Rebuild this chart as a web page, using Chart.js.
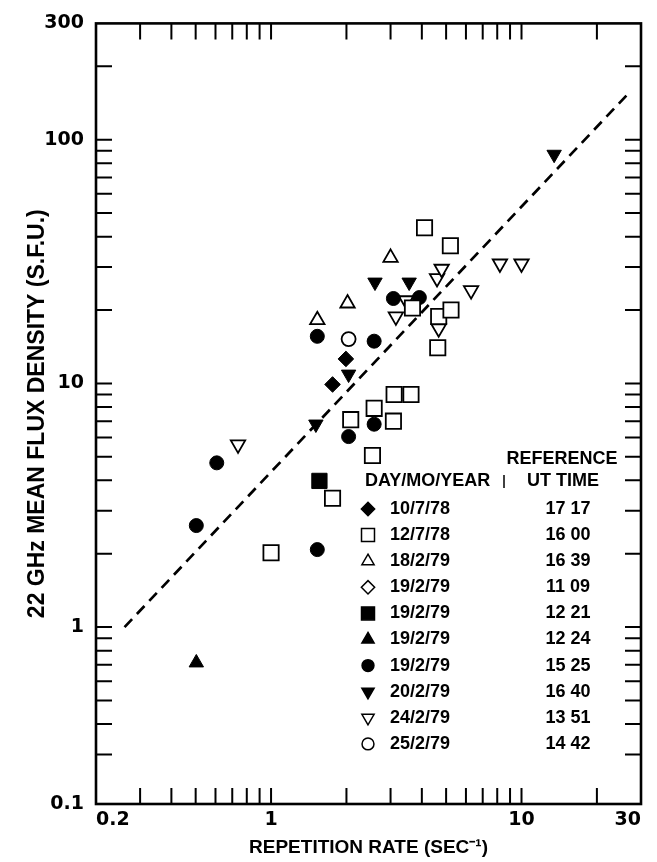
<!DOCTYPE html>
<html>
<head>
<meta charset="utf-8">
<title>22 GHz mean flux density vs repetition rate</title>
<script src="https://cdn.jsdelivr.net/npm/chart.js"></script>
<style>
  html, body { margin: 0; padding: 0; background: #fff; }
</style>
</head>
<body>
<canvas id="fluxChart" width="657" height="862"></canvas>
<script>
// values (x: repetition rate, y: flux density)
const diamond10778 = [{x: 1.99, y: 12.6}, {x: 1.76, y: 9.9}];
const square12778 = [
  {x: 1.0, y: 2.02}, {x: 1.76, y: 3.38}, {x: 2.54, y: 5.06}, {x: 2.08, y: 7.1},
  {x: 2.58, y: 7.9}, {x: 3.08, y: 7.0}, {x: 3.10, y: 9.0}, {x: 3.62, y: 9.0},
  {x: 4.63, y: 14.0}, {x: 4.67, y: 18.8}, {x: 5.23, y: 20.0}, {x: 3.67, y: 20.4},
  {x: 4.1, y: 43.5}, {x: 5.2, y: 36.7}
];
const triangle18279 = [{x: 2.02, y: 21.3}, {x: 1.53, y: 18.2}, {x: 3.0, y: 32.8}];
const openDiamond19279 = [];
const square19279 = [{x: 1.56, y: 3.98}];
const triangle19279 = [{x: 0.503, y: 0.714}];
const circle19279 = [
  {x: 1.53, y: 15.6}, {x: 2.58, y: 14.9}, {x: 2.04, y: 6.05}, {x: 2.58, y: 6.8},
  {x: 0.607, y: 4.72}, {x: 0.503, y: 2.61}, {x: 1.53, y: 2.08},
  {x: 3.08, y: 22.3}, {x: 3.91, y: 22.5}
];
const downTri20279 = [
  {x: 2.04, y: 10.9}, {x: 1.51, y: 6.8}, {x: 2.6, y: 26}, {x: 3.56, y: 26}, {x: 13.5, y: 87}
];
const openDownTri24279 = [
  {x: 0.738, y: 5.61}, {x: 3.46, y: 21.9}, {x: 3.15, y: 18.8}, {x: 4.67, y: 16.8},
  {x: 6.29, y: 24.1}, {x: 4.6, y: 27}, {x: 4.8, y: 29.5}, {x: 8.2, y: 31}, {x: 10, y: 31}
];
const circle25279 = [{x: 2.04, y: 15.2}];
const fitLine = [{x: 0.26, y: 1.0}, {x: 26.6, y: 154}];

const dates = ['10/7/78', '12/7/78', '18/2/79', '19/2/79', '19/2/79',
  '19/2/79', '19/2/79', '20/2/79', '24/2/79', '25/2/79'];
const utTimes = ['17 17', '16 00', '16 39', '11 09', '12 21',
  '12 24', '15 25', '16 40', '13 51', '14 42'];

const xTicks = [0.2, 1, 10, 30];
const xMinor = [0.3, 0.4, 0.5, 0.6, 0.7, 0.8, 0.9, 1, 2, 3, 4, 5, 6, 7, 8, 9, 10, 20];
// the original axis stops near 0.19 but its bottom is labelled 0.1
const yTicks = [0.188, 1, 10, 100, 300];
const yTickLabels = ['0.1', '1', '10', '100', '300'];
const yMinor = [0.3, 0.4, 0.5, 0.6, 0.7, 0.8, 0.9, 1, 2, 3, 4, 5, 6, 7, 8, 9,
  10, 20, 30, 40, 50, 60, 70, 80, 90, 100, 200];

const series = [diamond10778, square12778, triangle18279, openDiamond19279, square19279,
  triangle19279, circle19279, downTri20279, openDownTri24279, circle25279];
const markers = [
  {style: 'rectRot', r: 7.8, fill: true, rot: 0},
  {style: 'rect', r: 10.8, fill: false, rot: 0},
  {style: 'triangle', r: 8.3, fill: false, rot: 0},
  {style: 'rectRot', r: 7.8, fill: false, rot: 0},
  {style: 'rect', r: 10.8, fill: true, rot: 0},
  {style: 'triangle', r: 8.3, fill: true, rot: 0},
  {style: 'circle', r: 7, fill: true, rot: 0},
  {style: 'triangle', r: 8.3, fill: true, rot: 180},
  {style: 'triangle', r: 8.3, fill: false, rot: 180},
  {style: 'circle', r: 7, fill: false, rot: 0}
];

const tickLen = 16;

const datasets = series.map((data, i) => ({
  type: 'scatter',
  label: dates[i] + ' ' + utTimes[i],
  data: data,
  pointStyle: markers[i].style,
  rotation: markers[i].rot,
  pointRadius: markers[i].r,
  pointHoverRadius: markers[i].r,
  backgroundColor: markers[i].fill ? '#000' : '#fff',
  borderColor: '#000',
  borderWidth: markers[i].fill ? 1 : 1.8,
  order: 1
}));
datasets.push({
  type: 'line',
  label: 'fit',
  data: fitLine,
  borderColor: '#000',
  borderWidth: 2.7,
  borderDash: [11, 7],
  pointRadius: 0,
  fill: false,
  order: 10
});

const frameAndTicks = {
  id: 'frameAndTicks',
  afterDatasetsDraw(chart) {
    const {ctx, chartArea: a, scales: {x, y}} = chart;
    ctx.save();
    ctx.strokeStyle = '#000';
    ctx.lineWidth = 2;
    ctx.beginPath();
    xMinor.forEach(v => {
      const px = x.getPixelForValue(v);
      ctx.moveTo(px, a.bottom); ctx.lineTo(px, a.bottom - tickLen);
      ctx.moveTo(px, a.top); ctx.lineTo(px, a.top + tickLen);
    });
    yMinor.forEach(v => {
      const py = y.getPixelForValue(v);
      ctx.moveTo(a.left, py); ctx.lineTo(a.left + tickLen, py);
      ctx.moveTo(a.right, py); ctx.lineTo(a.right - tickLen, py);
    });
    ctx.stroke();
    ctx.lineWidth = 2.6;
    ctx.strokeRect(a.left, a.top, a.right - a.left, a.bottom - a.top);
    ctx.restore();
  }
};

const keyTable = {
  id: 'keyTable',
  afterDraw(chart) {
    const ctx = chart.ctx;
    ctx.save();
    ctx.fillStyle = '#000';
    ctx.font = 'bold 18px "Liberation Sans", Arial, sans-serif';
    ctx.textBaseline = 'middle';
    ctx.textAlign = 'center';
    ctx.fillText('REFERENCE', 562, 459);
    ctx.fillText('UT TIME', 563, 481);
    ctx.textAlign = 'left';
    ctx.fillText('DAY/MO/YEAR', 365, 481);
    // small separator mark between the two headings
    ctx.strokeStyle = '#000';
    ctx.lineWidth = 1.5;
    ctx.beginPath();
    ctx.moveTo(504, 475); ctx.lineTo(504, 488);
    ctx.stroke();
    dates.forEach((d, i) => {
      const yy = 509 + i * 26.1;
      const m = markers[i];
      ctx.fillStyle = m.fill ? '#000' : '#fff';
      ctx.strokeStyle = '#000';
      Chart.helpers.drawPoint(ctx, {
        pointStyle: m.style, rotation: m.rot, radius: m.r * 0.85,
        borderWidth: m.fill ? 1 : 1.5
      }, 368, yy);
      ctx.fillStyle = '#000';
      ctx.textAlign = 'left';
      ctx.fillText(d, 390, yy);
      ctx.textAlign = 'center';
      ctx.fillText(utTimes[i], 568, yy);
    });
    ctx.restore();
  }
};

new Chart(document.getElementById('fluxChart'), {
  data: {datasets: datasets},
  options: {
    responsive: false,
    animation: false,
    layout: {padding: {top: 16, right: 16, left: 0, bottom: 0}},
    plugins: {legend: {display: false}, tooltip: {enabled: false}},
    scales: {
      x: {
        type: 'logarithmic',
        min: 0.2,
        max: 30,
        afterBuildTicks: s => { s.ticks = xTicks.map(v => ({value: v})); },
        afterFit: s => { s.height = 58; },
        grid: {display: false, drawTicks: false},
        border: {display: false},
        ticks: {
          color: '#000',
          padding: 5,
          align: 'inner',
          maxRotation: 0,
          autoSkip: false,
          font: {family: '"DejaVu Sans"', weight: 'bold', size: 19},
          callback: v => String(v)
        },
        title: {
          display: true,
          text: 'REPETITION RATE (SEC\u207B\u00B9)',
          color: '#000',
          font: {family: '"Liberation Sans", Arial, sans-serif', weight: 'bold', size: 19},
          padding: {top: 0, bottom: 3}
        }
      },
      y: {
        type: 'logarithmic',
        min: 0.188,
        max: 300,
        afterBuildTicks: s => { s.ticks = yTicks.map(v => ({value: v})); },
        afterFit: s => { s.width = 96; },
        grid: {display: false, drawTicks: false},
        border: {display: false},
        ticks: {
          color: '#000',
          padding: 12,
          autoSkip: false,
          font: {family: '"DejaVu Sans"', weight: 'bold', size: 19},
          callback: (v, i) => yTickLabels[i]
        },
        title: {
          display: true,
          text: '22 GHz MEAN FLUX DENSITY (S.F.U.)',
          color: '#000',
          font: {family: '"Liberation Sans", Arial, sans-serif', weight: 'bold', size: 23},
          padding: {top: 24, bottom: 0}
        }
      }
    }
  },
  plugins: [frameAndTicks, keyTable]
});
</script>
</body>
</html>
